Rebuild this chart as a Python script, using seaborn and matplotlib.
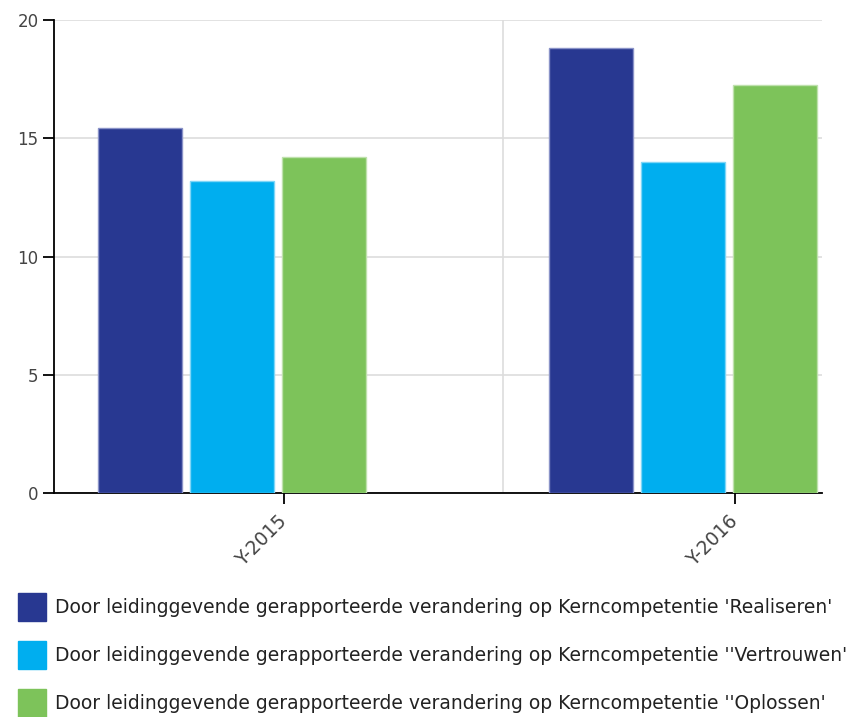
import numpy as np
import pandas as pd
import matplotlib
matplotlib.use("Agg")
import matplotlib.pyplot as plt
import seaborn as sns
from matplotlib.patches import Patch

# data
years = ["Y-2015", "Y-2016"]
series = [
    "Door leidinggevende gerapporteerde verandering op Kerncompetentie 'Realiseren'",
    "Door leidinggevende gerapporteerde verandering op Kerncompetentie ''Vertrouwen'",
    "Door leidinggevende gerapporteerde verandering op Kerncompetentie ''Oplossen'",
]
realiseren = [15.45, 18.8]
vertrouwen = [13.2, 14.0]
oplossen = [14.2, 17.25]
colors = ["#283891", "#00AEEF", "#7DC35A"]
edges = ["#8a93c8", "#7fd6f7", "#bfe1ad"]

df = pd.DataFrame({
    "year": years * 3,
    "serie": np.repeat(series, len(years)),
    "value": realiseren + vertrouwen + oplossen,
})

sns.set_style("white")
plt.rcParams["font.family"] = ["DejaVu Sans"]

fig = plt.figure(figsize=(8.46, 7.17), dpi=100)
ax = fig.add_axes([0.0638, 0.3124, 0.9078, 0.6597])

sns.barplot(data=df, x="year", y="value", hue="serie", order=years,
            hue_order=series, palette=colors, width=0.612, gap=0.09,
            saturation=1, ax=ax, legend=False, zorder=3)

# light outline on each bar, like the original
for cont, ec in zip(ax.containers, edges):
    for bar in cont:
        bar.set_edgecolor(ec)
        bar.set_linewidth(1)

ax.set_ylim(0, 20)
ax.set_xlim(-0.395, 1.308)
ax.set_yticks([0, 5, 10, 15, 20])
ax.yaxis.grid(True, color="#dddddd", linewidth=1.2, zorder=0)
ax.axvline(0.6, color="#dddddd", linewidth=1.2, zorder=0)
ax.set_axisbelow(True)

ax.set_xticks(np.arange(len(years)) + 0.115)
ax.set_xticklabels(years, rotation=45, ha="right", va="center",
                   rotation_mode="anchor")
ax.tick_params(axis="both", direction="out", length=8, width=1.3,
               color="black", labelcolor="#444444", left=True, bottom=True)
ax.tick_params(axis="y", labelsize=12, pad=3)
ax.tick_params(axis="x", labelsize=13.5, pad=10)
ax.set_xlabel("")
ax.set_ylabel("")

for s in ["top", "right"]:
    ax.spines[s].set_visible(False)
for s in ["left", "bottom"]:
    ax.spines[s].set_color("black")
    ax.spines[s].set_linewidth(1.3)

handles = [Patch(facecolor=c, edgecolor=c) for c in colors]
fig.legend(handles, series, loc="upper left", bbox_to_anchor=(18 / 846, 1 - 593 / 717),
           frameon=False, fontsize=13.5, handlelength=1.5, handleheight=1.93,
           handletextpad=0.48, labelspacing=1.05, borderpad=0, borderaxespad=0,
           labelcolor="#222222")

fig.savefig("out.png", dpi=100)
